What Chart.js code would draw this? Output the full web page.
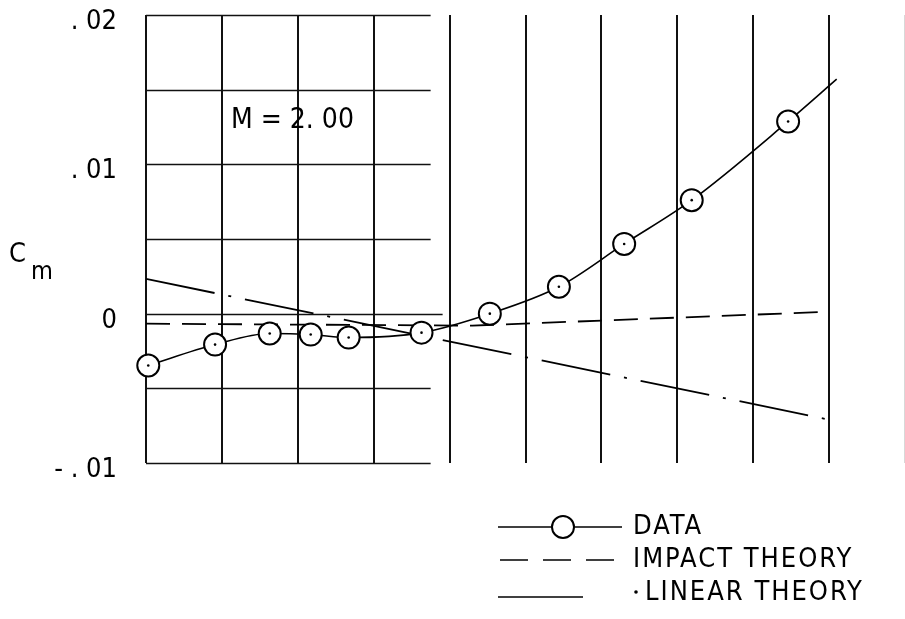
<!DOCTYPE html>
<html>
<head>
<meta charset="utf-8">
<script src="https://cdn.jsdelivr.net/npm/chart.js@4.4.1/dist/chart.umd.min.js"></script>
<style>
  body { margin: 0; background: #fff; }
</style>
</head>
<body>
<canvas id="cmChart" width="905" height="619"></canvas>
<script>
// measured points (circles)
const dataX = [0.03, 0.91, 1.63, 2.17, 2.67, 3.63, 4.53, 5.44, 6.30, 7.19, 8.46];
const dataCm = [-0.00347, -0.00207, -0.00133, -0.0014, -0.0016, -0.00127, 0.0, 0.0018, 0.00467, 0.0076, 0.01287];
// faired curve runs a bit past the last point
const fairEndX = 9.1;
const fairEndCm = 0.0157;
// impact theory (dashed)
const impactX = [0, 4.3, 9];
const impactCm = [-0.00067, -0.0008, 0.00013];
// linear theory (dash-dot)
const linearX = [0, 9];
const linearCm = [0.00233, -0.0071];
// axis ticks
const yTicks = [0.02, 0.01, 0, -0.01];
const yTickLabels = ['. 02', '. 01', '0', '- . 01'];
const yGrid = [0.02, 0.015, 0.01, 0.005, 0, -0.005, -0.01];
const xGrid = [0, 1, 2, 3, 4, 5, 6, 7, 8, 9, 10];

const FONT = '"DejaVu Sans Condensed", "Liberation Sans Narrow", sans-serif';
const hGridEnd = 3.75; // horizontal rules only run across the left part

const pts = (xs, ys) => xs.map((x, i) => ({ x: x, y: ys[i] }));
const noPad = s => { s.paddingTop = 0; s.paddingBottom = 0; s.paddingLeft = 0; s.paddingRight = 0; };

//horizontal rules + text block
const paperPlugin = {
  id: 'paper',
  beforeDatasetsDraw(chart) {
    const { ctx, chartArea, scales: { x, y } } = chart;
    ctx.save();
    ctx.strokeStyle = '#111';
    ctx.lineWidth = 1.5;
    const xr = x.getPixelForValue(hGridEnd);
    yGrid.forEach(v => {
      const py = Math.round(y.getPixelForValue(v)) + 0.5;
      ctx.beginPath();
      ctx.moveTo(chartArea.left, py);
      ctx.lineTo(v === 0 ? xr + 12 : xr, py);
      ctx.stroke();
    });
    ctx.restore();
  },
  afterDraw(chart) {
    const { ctx } = chart;
    ctx.save();
    ctx.fillStyle = '#000';
    ctx.strokeStyle = '#000';
    ctx.textBaseline = 'middle';
    ctx.textAlign = 'left';

    // axis title C_m
    ctx.font = '27px ' + FONT;
    ctx.fillText('C', 9, 255);
    ctx.font = '25px ' + FONT;
    ctx.fillText('m', 31, 272);

    // Mach number
    ctx.font = '28px ' + FONT;
    ctx.fillText('M = 2. 00', 231, 121);

    // legend
    ctx.font = '27px ' + FONT;
    ctx.letterSpacing = '2px';
    ctx.lineWidth = 1.5;
    // DATA
    ctx.beginPath();
    ctx.moveTo(498, 527); ctx.lineTo(622, 527);
    ctx.stroke();
    ctx.beginPath();
    ctx.arc(563, 527, 11, 0, Math.PI * 2);
    ctx.fillStyle = '#fff';
    ctx.fill();
    ctx.lineWidth = 2;
    ctx.stroke();
    ctx.fillStyle = '#000';
    ctx.fillText('DATA', 633, 527);
    // IMPACT THEORY
    ctx.lineWidth = 1.5;
    ctx.setLineDash([28, 15]);
    ctx.beginPath();
    ctx.moveTo(500, 560); ctx.lineTo(622, 560);
    ctx.stroke();
    ctx.setLineDash([]);
    ctx.fillText('IMPACT THEORY', 633, 560);
    // LINEAR THEORY
    ctx.beginPath();
    ctx.moveTo(498, 597); ctx.lineTo(583, 597);
    ctx.stroke();
    ctx.beginPath();
    ctx.arc(636, 592, 1.8, 0, Math.PI * 2);
    ctx.fill();
    ctx.fillText('LINEAR THEORY', 645, 593);
    ctx.restore();
  }
};

//config block
const config = {
  type: 'line',
  data: {
    datasets: [
      {
        label: 'DATA',
        data: pts([...dataX, fairEndX], [...dataCm, fairEndCm]),
        borderColor: '#000',
        borderWidth: 1.6,
        backgroundColor: '#fff',
        pointBackgroundColor: '#fff',
        pointBorderColor: '#000',
        pointBorderWidth: 2,
        pointRadius: [...dataX.map(() => 11), 0],
        cubicInterpolationMode: 'monotone',
        clip: false,
        order: 1
      },
      {
        label: 'centre dots',
        data: pts(dataX, dataCm),
        showLine: false,
        pointRadius: 1.3,
        pointBorderWidth: 0,
        pointBackgroundColor: '#000',
        clip: false,
        order: 0
      },
      {
        label: 'IMPACT THEORY',
        data: pts(impactX, impactCm),
        borderColor: '#000',
        borderWidth: 1.8,
        borderDash: [24, 12],
        pointRadius: 0,
        tension: 0,
        order: 3
      },
      {
        label: 'LINEAR THEORY',
        data: pts(linearX, linearCm),
        borderColor: '#000',
        borderWidth: 1.8,
        borderDash: [70, 14, 3, 14],
        pointRadius: 0,
        tension: 0,
        order: 2
      }
    ]
  },
  options: {
    responsive: false,
    animation: false,
    devicePixelRatio: 1,
    events: [],
    layout: { autoPadding: false, padding: { top: 15, bottom: 156, left: 0, right: 0 } },
    plugins: {
      legend: { display: false },
      tooltip: { enabled: false }
    },
    scales: {
      x: {
        type: 'linear',
        min: 0,
        max: 10,
        afterBuildTicks: s => { s.ticks = xGrid.map(v => ({ value: v })); },
        afterFit: s => { s.height = 0; noPad(s); },
        ticks: { display: false },
        border: { display: false },
        grid: {
          drawTicks: false,
          lineWidth: 2,
          color: c => (c.tick && c.tick.value === 10 ? '#d8d8d8' : '#111')
        }
      },
      y: {
        type: 'linear',
        min: -0.01,
        max: 0.02,
        afterBuildTicks: s => { s.ticks = yTicks.map(v => ({ value: v })); },
        afterFit: s => { s.width = 146; noPad(s); },
        border: { display: false },
        grid: { display: false, drawTicks: false },
        ticks: {
          padding: 29,
          labelOffset: 7,
          color: '#000',
          font: { family: FONT, size: 27 },
          callback: v => yTickLabels[yTicks.indexOf(v)]
        }
      }
    }
  },
  plugins: [paperPlugin]
};

//init and render block
new Chart(document.getElementById('cmChart'), config);
</script>
</body>
</html>
